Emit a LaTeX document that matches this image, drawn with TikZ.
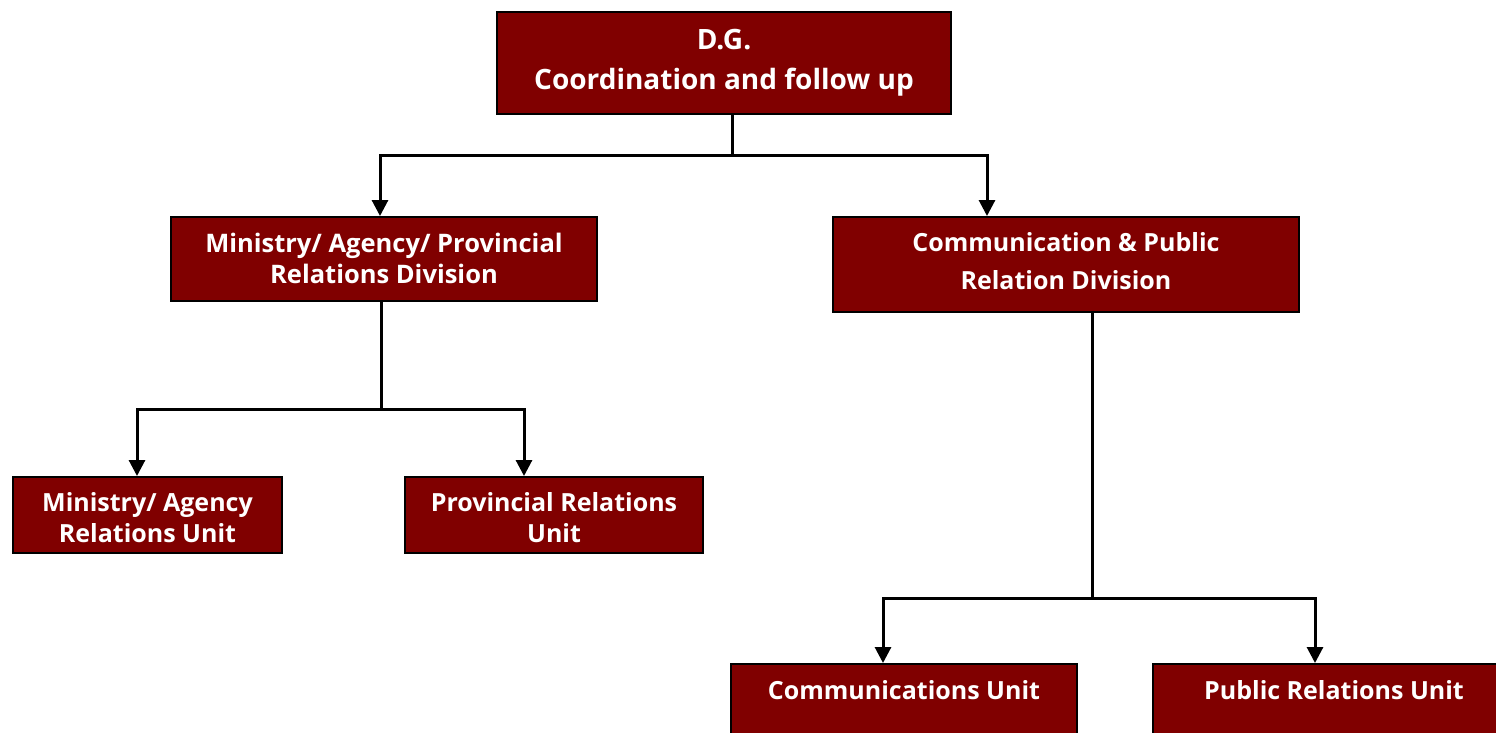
\documentclass[tikz,border=0pt]{standalone}
\usepackage{fontspec}
\setmainfont{Open Sans}
\usetikzlibrary{arrows.meta}
\definecolor{boxred}{HTML}{800000}
\begin{document}
\begin{tikzpicture}[x=1pt,y=-1pt,
  box/.style={draw=black,line width=2pt,fill=boxred,inner sep=0pt},
  txt/.style={text=white,align=center,inner sep=0pt},
  line/.style={line width=3pt},
  conn/.style={line width=3pt,-{Triangle[length=16pt,width=16pt]}}]
\useasboundingbox (0,0) rectangle (1496,732);
\clip (0,0) rectangle (1496,732);
% boxes
\node[box,minimum width=454pt,minimum height=102pt] (dg) at (724,63) {};
\node[box,minimum width=426pt,minimum height=84pt] (mapr) at (384,259) {};
\node[box,minimum width=466pt,minimum height=95pt] (cpr) at (1066,264.5) {};
\node[box,minimum width=269pt,minimum height=76pt] (mau) at (147.5,515) {};
\node[box,minimum width=298pt,minimum height=76pt] (pru) at (554,515) {};
\node[box,minimum width=346pt,minimum height=110pt] (cu) at (904,719) {};
\node[box,minimum width=367pt,minimum height=110pt] (pubu) at (1336.5,719) {};
% texts
\node[txt,font=\bfseries\fontsize{28}{40}\selectfont] (dgt) at (724,63) {D.G.\\Coordination and follow up};
\node[txt,font=\bfseries\fontsize{25.5}{31}\selectfont] (maprt) at (384,258) {Ministry/ Agency/ Provincial\\Relations Division};
\node[txt,font=\bfseries\fontsize{25}{38}\selectfont] (cprt) at (1066,261) {Communication \& Public\\Relation Division};
\node[txt,font=\bfseries\fontsize{25}{31}\selectfont] (maut) at (147.5,518) {Ministry/ Agency\\Relations Unit};
\node[txt,font=\bfseries\fontsize{25}{31}\selectfont] (prut) at (554,518) {Provincial Relations\\Unit};
\node[txt,font=\bfseries\fontsize{25}{31}\selectfont] (cut) at (904,690) {Communications Unit};
\node[txt,font=\bfseries\fontsize{25}{31}\selectfont] (pubut) at (1334,690) {Public Relations Unit};
% connectors
\coordinate (j1) at (732,155);
\draw[line] (dg.south -| j1) -- (j1);
\draw[conn] (j1) -| ([xshift=-4pt]mapr.north);
\draw[conn] (j1) -| ([xshift=-79pt]cpr.north);
\coordinate (j2) at (381,409);
\draw[line] (mapr.south -| j2) -- (j2);
\draw[conn] (j2) -| ([xshift=-10.5pt]mau.north);
\draw[conn] (j2) -| ([xshift=-30pt]pru.north);
\coordinate (j3) at (1092,598);
\draw[line] (cpr.south -| j3) -- (j3);
\draw[conn] (j3) -| ([xshift=-21pt]cu.north);
\draw[conn] (j3) -| ([xshift=-21.5pt]pubu.north);
\end{tikzpicture}
\end{document}
